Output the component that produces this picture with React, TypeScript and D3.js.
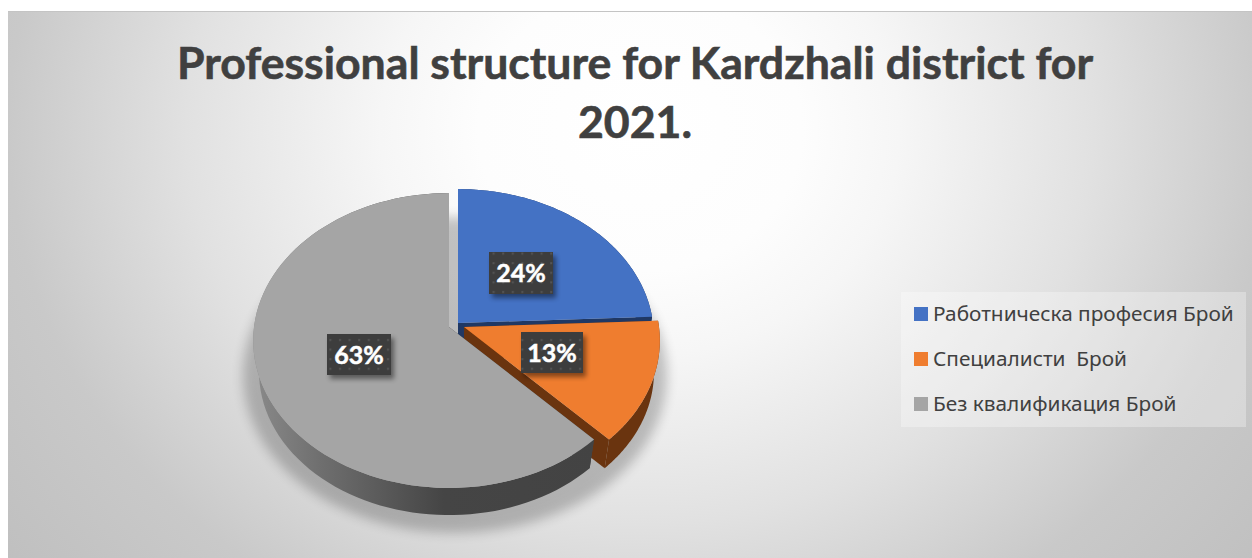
import React from "react";
import * as d3 from "d3";

const categories = ["Работническа професия Брой", "Специалисти  Брой", "Без квалификация Брой"];
const values = [24, 13, 63];
const colors = ["#4472c4", "#ef7d2f", "#a5a5a5"];
const wallColors = ["#203864", "#6a340f", "#454545"];
const titleLines = ["Professional structure for Kardzhali district for", "2021."];

const W = 1252, H = 558;
const apexes = [[458, 323], [464, 327], [449, 327]];
const labelBoxes = [[489, 252], [521, 332], [327, 334]];
const RX = 195, RY = 146.2, K = 0.0916, DEPTH = 32, SHRINK = 0.97;
const WARP = (1.35 * Math.PI) / 180;

function project(theta0: number, a: number[]) {
  const theta = theta0 + WARP * Math.sin(theta0) * (1 - Math.cos(theta0)) ** 2;
  const u = Math.sin(theta), v = -Math.cos(theta);
  const w = 1 - K * v;
  return [a[0] + (RX * u) / w, a[1] + (RY * v) / w] as [number, number];
}

const lineGen = d3.line();

export default function App() {
  const arcs = d3.pie<number>().sort(null)(values);
  const slices = arcs.map((arc, i) => {
    const a = apexes[i] as [number, number];
    const n = 90;
    const thetas = d3.range(n + 1).map((k) => arc.startAngle + ((arc.endAngle - arc.startAngle) * k) / n);
    const rim = thetas.map((t) => project(t, a));
    const top = lineGen([a, ...rim])! + "Z";
    const down = (p: [number, number]) =>
      [a[0] + (p[0] - a[0]) * SHRINK, a[1] + (p[1] - a[1]) * SHRINK + DEPTH] as [number, number];
    const wall = lineGen([...rim, ...rim.slice().reverse().map(down)])! + "Z";
    const end = rim[rim.length - 1];
    const start = rim[0];
    const radials = [
      lineGen([a, start, down(start), down(a)])! + "Z",
      lineGen([a, end, down(end), down(a)])! + "Z",
    ];
    return { i, top, wall, radials };
  });
  const total = d3.sum(values);
  const pct = d3.format(".0%");

  return (
    <svg width={W} height={H} style={{ position: "absolute", left: 0, top: 0 }} fontFamily="'Noto Sans', sans-serif">
      <defs>
        <radialGradient id="bg" gradientUnits="userSpaceOnUse" cx={640} cy={130} r={810}
          gradientTransform="translate(640 130) scale(1 0.87) translate(-640 -130)">
          <stop offset="0" stopColor="#ffffff" />
          <stop offset="0.2" stopColor="#fdfdfd" />
          <stop offset="0.32" stopColor="#f6f6f6" />
          <stop offset="0.48" stopColor="#e8e8e8" />
          <stop offset="0.56" stopColor="#e1e1e1" />
          <stop offset="0.78" stopColor="#c9c9c9" />
          <stop offset="1" stopColor="#bfbfbf" />
        </radialGradient>
        <linearGradient id="wall2" gradientUnits="userSpaceOnUse" x1={253} x2={600} y1={0} y2={0}>
          <stop offset="0" stopColor="#8a8a8a" />
          <stop offset="0.2" stopColor="#6e6e6e" />
          <stop offset="0.55" stopColor="#454545" />
          <stop offset="1" stopColor="#434343" />
        </linearGradient>
        <filter id="soft" x="-20%" y="-20%" width="140%" height="140%">
          <feGaussianBlur stdDeviation="6" />
        </filter>
        <filter id="boxShadow" x="-30%" y="-30%" width="160%" height="160%">
          <feGaussianBlur stdDeviation="2.5" />
        </filter>
        <pattern id="dots" width="9.6" height="9.6" patternUnits="userSpaceOnUse">
          <rect width="9.6" height="9.6" fill="#3d3d3d" />
          <rect x="3" y="3" width="2" height="2" fill="#555555" />
        </pattern>
      </defs>
      <rect x={0} y={0} width={W} height={H} fill="#ffffff" />
      <rect x={8} y={12} width={W - 8} height={H - 12} fill="url(#bg)" />
      <line x1={8} x2={W} y1={11.5} y2={11.5} stroke="#c4c4c4" />

      {titleLines.map((t, i) => (
        <text key={i} x={635} y={79 + i * 59} textAnchor="middle" fontFamily="Lato, 'Noto Sans', sans-serif"
          fontWeight={700} fontSize={44.6} fill="#404040" stroke="#404040" strokeWidth={0.6}>{t}</text>
      ))}

      <ellipse cx={455} cy={375} rx={212} ry={158} fill="#000" opacity={0.22} filter="url(#soft)" />

      {slices.map((s) => (
        <g key={s.i}>
          {s.radials.map((d, j) => (
            <path key={j} d={d} fill={wallColors[s.i]} />
          ))}
          <path d={s.wall} fill={s.i === 2 ? "url(#wall2)" : wallColors[s.i]} />
          <path d={s.top} fill={colors[s.i]} />
        </g>
      ))}

      {arcs.map((arc, i) => {
        const [x, y] = labelBoxes[i];
        const w = i === 1 ? 62 : 64, h = i === 0 ? 42 : 41;
        return (
          <g key={i}>
            <rect x={x + 3} y={y + 4} width={w} height={h} fill="#000" opacity={0.45} filter="url(#boxShadow)" />
            <rect x={x} y={y} width={w} height={h} fill="url(#dots)" />
            <text x={x + w / 2} y={y + 30} textAnchor="middle" fontFamily="Lato, 'Noto Sans', sans-serif"
              fontWeight={700} fontSize={25} fill="#ffffff" stroke="#ffffff" strokeWidth={0.5}>{pct(arc.data / total)}</text>
          </g>
        );
      })}

      <rect x={901} y={292} width={345} height={135} fill="#ffffff" opacity={0.3} />
      {categories.map((c, i) => (
        <g key={i}>
          <rect x={914} y={307 + i * 45} width={14} height={14} fill={colors[i]} />
          <text x={933} y={321 + i * 45} fontSize={20.8} fill="#404040" style={{ whiteSpace: "pre" }}>{c}</text>
        </g>
      ))}
    </svg>
  );
}
